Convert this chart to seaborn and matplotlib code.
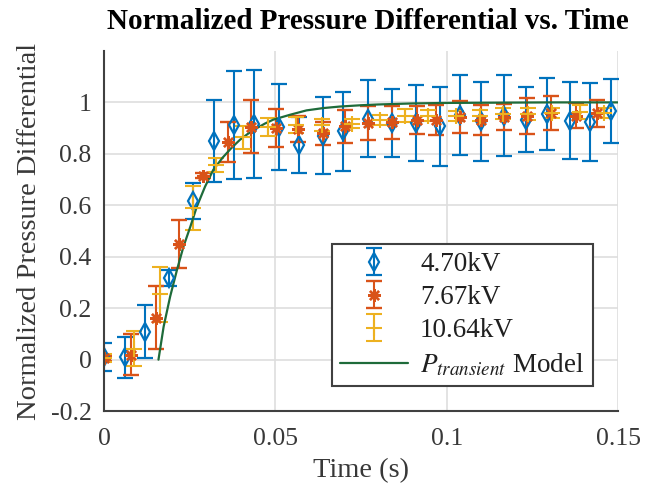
import numpy as np
import pandas as pd
import matplotlib
matplotlib.use("Agg")
import matplotlib.pyplot as plt
import seaborn as sns

# ---- data ----
t_470 = [0, 0.006, 0.012, 0.019, 0.026, 0.032, 0.0379, 0.0439, 0.051, 0.0569, 0.064, 0.0698,
         0.0769, 0.0839, 0.091, 0.098, 0.1038, 0.11, 0.1167, 0.123, 0.1293, 0.1359, 0.1419, 0.148]
v_470 = [0.01, 0.01, 0.109, 0.318, 0.617, 0.85, 0.913, 0.916, 0.905, 0.834, 0.871, 0.888,
         0.937, 0.919, 0.92, 0.907, 0.951, 0.926, 0.948, 0.933, 0.956, 0.929, 0.924, 0.968]
e_470 = [0.054, 0.08, 0.104, 0.03, 0.071, 0.16, 0.21, 0.21, 0.167, 0.11, 0.149, 0.153,
         0.149, 0.133, 0.146, 0.153, 0.157, 0.153, 0.157, 0.127, 0.14, 0.15, 0.15, 0.124]

t_767 = [0, 0.0079, 0.0152, 0.0218, 0.029, 0.0361, 0.0429, 0.0501, 0.0565, 0.064, 0.0703,
         0.0771, 0.0839, 0.0912, 0.097, 0.1038, 0.11, 0.1167, 0.1233, 0.1305, 0.1378, 0.144]
v_767 = [0.005, 0.02, 0.163, 0.451, 0.715, 0.847, 0.906, 0.901, 0.896, 0.88, 0.907,
         0.921, 0.922, 0.932, 0.932, 0.945, 0.931, 0.943, 0.947, 0.957, 0.949, 0.958]
e_767 = [0.01, 0.08, 0.123, 0.093, 0.01, 0.077, 0.104, 0.073, 0.05, 0.045, 0.065,
         0.066, 0.063, 0.055, 0.058, 0.062, 0.057, 0.05, 0.07, 0.066, 0.05, 0.052]

t_1064 = [0, 0.0089, 0.0164, 0.0259, 0.0327, 0.0407, 0.048, 0.056, 0.0635, 0.0723, 0.0805,
          0.0878, 0.0946, 0.1028, 0.1097, 0.1164, 0.1238, 0.1307, 0.1388, 0.146]
v_1064 = [0.007, 0.042, 0.254, 0.59, 0.756, 0.865, 0.904, 0.913, 0.913, 0.918, 0.933,
          0.949, 0.948, 0.946, 0.948, 0.956, 0.955, 0.959, 0.962, 0.96]
e_1064 = [0.015, 0.068, 0.108, 0.085, 0.028, 0.045, 0.036, 0.03, 0.023, 0.018, 0.02,
          0.025, 0.022, 0.02, 0.022, 0.022, 0.025, 0.02, 0.028, 0.02]

model_t = [0.0159, 0.0174, 0.0193, 0.0213, 0.0232, 0.0252, 0.0271, 0.0295, 0.0319, 0.0346,
           0.0372, 0.0397, 0.0421, 0.0446, 0.0470, 0.0494, 0.0543, 0.0591, 0.064, 0.0689,
           0.075, 0.08, 0.09, 0.1, 0.115, 0.13, 0.15]
model_v = [0.0, 0.128, 0.245, 0.349, 0.44, 0.517, 0.595, 0.673, 0.738, 0.785,
           0.823, 0.855, 0.879, 0.90, 0.918, 0.933, 0.952, 0.969, 0.978, 0.984,
           0.989, 0.992, 0.996, 0.998, 0.999, 1.0, 1.0]

labels = ["4.70kV", "7.67kV", "10.64kV", r"$P_{transient}$ Model"]
x_ticks = [0, 0.05, 0.1, 0.15]
x_ticklabels = ["0", "0.05", "0.1", "0.15"]
y_ticks = [-0.2, 0, 0.2, 0.4, 0.6, 0.8, 1]
y_ticklabels = ["-0.2", "0", "0.2", "0.4", "0.6", "0.8", "1"]

# ---- style ----
sns.set_theme(style="whitegrid")
plt.rcParams["font.family"] = ["Liberation Serif", "DejaVu Serif"]
plt.rcParams["mathtext.fontset"] = "stix"

blue, red, yellow, green = "#0072BD", "#D95319", "#EDB120", "#1E6B3A"
axis_grey = "#404040"
text_grey = "#383838"

fig = plt.figure(figsize=(6.54, 4.9), dpi=100)
ax = fig.add_axes([0.159, 0.161, 0.786, 0.735])

common = dict(capsize=5.8, elinewidth=1.5, capthick=1.5, linestyle="none")
ax.errorbar(t_470, v_470, yerr=e_470, fmt="", marker="d", color=blue, mfc="none",
            mew=1.6, ms=9, label=labels[0], **common)
ax.errorbar(t_767, v_767, yerr=e_767, fmt="", marker=(8, 2, 0), color=red, mew=1.7, ms=9,
            label=labels[1], **common)
ax.errorbar(t_1064, v_1064, yerr=e_1064, fmt="", marker="+", color=yellow, mew=1.5, ms=11,
            label=labels[2], **common)

df_model = pd.DataFrame({"t": model_t, "v": model_v})
sns.lineplot(data=df_model, x="t", y="v", color=green, linewidth=1.6, sort=False,
             estimator=None, ax=ax, label=labels[3])

ax.set_xlim(0, 0.15)
ax.set_ylim(-0.2, 1.2)
ax.set_xticks(x_ticks)
ax.set_xticklabels(x_ticklabels)
ax.set_yticks(y_ticks)
ax.set_yticklabels(y_ticklabels)

ax.grid(True, color="#dedede", linewidth=1.2)
ax.set_axisbelow(True)
for s in ["top", "right"]:
    ax.spines[s].set_visible(False)
for s in ["left", "bottom"]:
    ax.spines[s].set_visible(True)
    ax.spines[s].set_color(axis_grey)
    ax.spines[s].set_linewidth(1.5)
ax.tick_params(axis="both", direction="in", length=5, width=1.3, color=axis_grey,
               labelsize=18.5, labelcolor=text_grey)
ax.tick_params(axis="x", pad=12)
ax.tick_params(axis="y", pad=9)

ax.set_xlabel("Time (s)", fontsize=20.5, color=text_grey, labelpad=6)
ax.set_ylabel("Normalized Pressure Differential", fontsize=20.5, color=text_grey, labelpad=6)
ax.set_title("Normalized Pressure Differential vs. Time", fontsize=21, fontweight="bold",
             color="black", pad=16, x=0.513)

# legend
handles, labs = ax.get_legend_handles_labels()
order = [labs.index(l) for l in labels]
leg = ax.legend([handles[i] for i in order], [labs[i] for i in order],
                loc="lower right", bbox_to_anchor=(0.9505, 0.069), fontsize=19.5,
                frameon=True, fancybox=False, framealpha=1, edgecolor=axis_grey,
                handlelength=2.5, labelspacing=0.3, borderpad=0.3, handletextpad=0.45,
                borderaxespad=0)
leg.get_frame().set_linewidth(1.5)
for txt in leg.get_texts():
    txt.set_color("#202020")

fig.savefig("out.png", dpi=100)
